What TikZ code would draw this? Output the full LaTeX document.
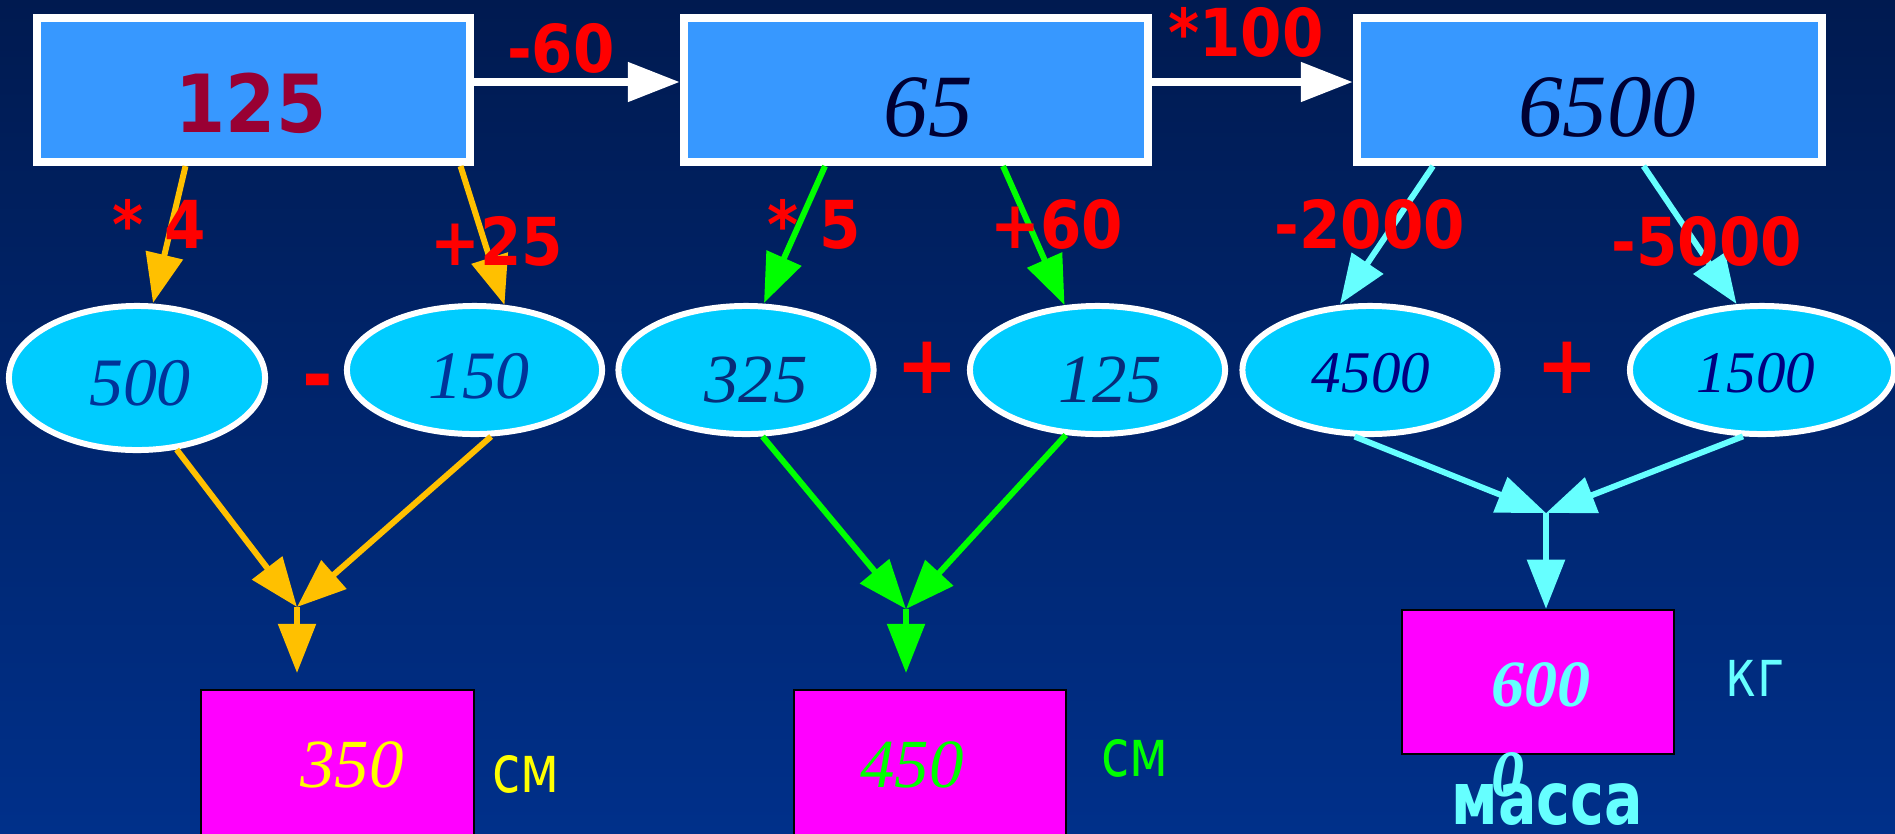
\documentclass[tikz,border=0pt]{standalone}
\usepackage{fontspec}
\usetikzlibrary{arrows.meta,shapes.geometric,calc}
\setmainfont{Liberation Serif}
\newfontfamily\labfont[FakeStretch=0.9]{DejaVu Sans}
\newfontfamily\tahfont[FakeStretch=0.78]{DejaVu Sans}
\definecolor{bgtop}{RGB}{0,26,80}
\definecolor{bgbot}{RGB}{0,48,138}
\definecolor{boxblue}{RGB}{55,152,255}
\definecolor{crimson}{RGB}{153,0,51}
\definecolor{nightblue}{RGB}{0,0,51}
\definecolor{skyfill}{RGB}{0,204,255}
\definecolor{ellblue}{RGB}{0,51,153}
\definecolor{ellmid}{RGB}{8,44,120}
\definecolor{ellnavy}{RGB}{0,0,128}
\definecolor{amber}{RGB}{255,192,0}
\definecolor{lime}{RGB}{0,255,0}
\definecolor{aqua}{RGB}{102,255,255}
\definecolor{pinkbox}{RGB}{255,0,255}
\definecolor{yel}{RGB}{255,255,0}
\tikzset{
  topbox/.style={rectangle, draw=white, line width=2.28pt, fill=boxblue, inner sep=0pt, minimum height=1.44cm},
  oval/.style={ellipse, draw=white, line width=1.7pt, fill=skyfill, inner sep=0pt, minimum width=2.55cm, minimum height=1.28cm},
  result/.style={rectangle, draw=black, line width=0.6pt, fill=pinkbox, inner sep=0pt},
  link/.style={line width=1.7pt, -{Triangle[length=14pt,width=10.5pt]}},
  wlink/.style={line width=2.3pt, draw=white, -{Triangle[length=14.8pt,width=10.8pt]}},
  oplabel/.style={text=red, inner sep=0pt, font=\labfont\bfseries\fontsize{18.8pt}{20pt}\selectfont},
  opsign/.style={text=red, inner sep=0pt, font=\labfont\bfseries\fontsize{23.3pt}{25pt}\selectfont},
  numit/.style={inner sep=0pt, font=\itshape\fontsize{#1}{1.2\dimexpr#1\relax}\selectfont},
  unitlabel/.style={inner sep=0pt, font=\tahfont\fontsize{18.8pt}{20pt}\selectfont}
}
\begin{document}
\begin{tikzpicture}[x=0.01cm, y=-0.01cm]
\useasboundingbox (0,0) rectangle (1895,833);
\fill[top color=bgtop, bottom color=bgbot] (0,0) rectangle (1895,833);

% top boxes
\node[topbox, minimum width=4.32cm] (b1) at (253.5,90) {};
\node[topbox, minimum width=4.64cm] (b2) at (916,90) {};
\node[topbox, minimum width=4.65cm] (b3) at (1589.5,90) {};
\node[inner sep=0pt, text=crimson, font=\labfont\bfseries\fontsize{22.8pt}{24pt}\selectfont] (t125) at (251,103) {125};
\node[numit=25.3pt, text=nightblue] (t65) at (928,107) {65};
\node[numit=25.3pt, text=nightblue] (t6500) at (1607,107) {6500};

\draw[wlink] ($(b1.east)+(0,-8)$) -- ($(b2.west)+(0,-8)$);
\draw[wlink] ($(b2.east)+(0,-8)$) -- ($(b3.west)+(0,-8)$);

% ellipses
\node[oval, minimum width=2.56cm, minimum height=1.44cm] (e1) at (137,378) {};
\node[oval] (e2) at (474.5,370) {};
\node[oval] (e3) at (746,370) {};
\node[oval] (e4) at (1097.5,370) {};
\node[oval] (e5) at (1370,370) {};
\node[oval, minimum width=2.64cm] (e6) at (1762,370) {};
\node[numit=19.3pt, text=ellblue] (v500) at (140,383) {500};
\node[numit=19.3pt, text=ellblue] (v150) at (479,376) {150};
\node[numit=19.6pt, text=ellmid] (v325) at (756,380) {325};
\node[numit=19.6pt, text=ellmid] (v125) at (1110,380) {125};
\node[numit=16.8pt, text=ellnavy] (v4500) at (1371,373) {4500};
\node[numit=16.8pt, text=ellnavy] (v1500) at (1756,373) {1500};

% box to ellipse arrows
\draw[link, amber] ($(b1.south)+(-68,0)$) -- ($(e1.north)+(16,0)$);
\draw[link, amber] ($(b1.south)+(207,0)$) -- ($(e2.north)+(30,2)$);
\draw[link, lime] ($(b2.south)+(-91,0)$) -- ($(e3.north)+(18,0)$);
\draw[link, lime] ($(b2.south)+(87,0)$) -- ($(e4.north)+(-33,2)$);
\draw[link, aqua] ($(b3.south)+(-156.5,0)$) -- ($(e5.north)+(-30,1)$);
\draw[link, aqua] ($(b3.south)+(54,0)$) -- ($(e6.north)+(-25.5,1)$);

% result boxes
\node[result, minimum width=2.73cm, minimum height=1.7cm] (r1) at (337.5,775) {};
\node[result, minimum width=2.72cm, minimum height=1.7cm] (r2) at (930,775) {};
\node[result, minimum width=2.72cm, minimum height=1.44cm] (r3) at (1538,682) {};

% converging arrows
\coordinate (m1) at (297,607);
\coordinate (m2) at (906,609);
\coordinate (m3) at (1546,513);
\coordinate (d1) at (297,673);
\coordinate (d2) at (906,673);
\draw[link, amber] (e1.-61) -- (m1);
\draw[link, amber] (e2.-76) -- (m1);
\draw[link, amber] (m1) -- (d1);
\draw[link, lime] (e3.-76.5) -- (m2);
\draw[link, lime] (e4.-116) -- (m2);
\draw[link, lime] (m2) -- (d2);
\draw[link, aqua] (e5.-103) -- (m3);
\draw[link, aqua] (e6.-106.5) -- (m3);
\draw[link, aqua] (m3) -- (m3 |- r3.north);

% result texts
\node[numit=19.6pt, text=yel] (v350) at (352,765) {350};
\node[numit=19.6pt, text=lime] (v450) at (912,765) {450};
\node[anchor=north west, align=left, inner sep=0pt, text=aqua, font=\bfseries\itshape\fontsize{18.8pt}{25.6pt}\selectfont] (v600) at (1491,662) {600\\0};
\node[unitlabel, text=yel] (cm1) at (526,774) {см};
\node[unitlabel, text=lime] (cm2) at (1135,758) {см};
\node[unitlabel, text=aqua] (kg) at (1755,678) {кг};
\node[inner sep=0pt, text=aqua, font=\tahfont\bfseries\fontsize{20.8pt}{22pt}\selectfont] (mass) at (1547,805) {масса};

% operation labels
\node[oplabel] (l60) at (561,48) {-60};
\node[oplabel] (l100) at (1246,32) {*100};
\node[oplabel] (l4) at (159,224) {* 4};
\node[oplabel] (l25) at (497,241) {+25};
\node[oplabel] (l5) at (814,224) {* 5};
\node[oplabel] (l60b) at (1057,224) {+60};
\node[oplabel] (l2000) at (1370,224) {-2000};
\node[oplabel] (l5000) at (1707,241) {-5000};

% signs between ellipses
\node[opsign] (s1) at (318,389) {-};
\node[opsign] (s2) at (927,368) {+};
\node[opsign] (s3) at (1567,368) {+};
\end{tikzpicture}
\end{document}
